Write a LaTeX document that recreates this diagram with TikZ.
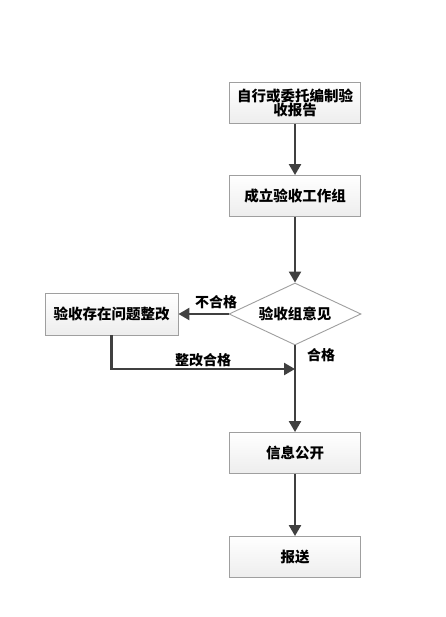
\documentclass[tikz,border=0pt]{standalone}
\usepackage{fontspec}
\newfontfamily\cjk{Noto Sans CJK SC}
\usetikzlibrary{shapes.geometric,arrows.meta}
\tikzset{
  procbox/.style={draw=gray!75, line width=0.9pt, top color=white, bottom color=gray!14,
    minimum width=131pt, minimum height=41pt, align=center, inner sep=2pt, font=\cjk\bfseries\fontsize{14.5}{15.5}\selectfont},
  decide/.style={diamond, draw=gray!75, line width=0.9pt, fill=white, aspect=2.13, inner sep=0pt,
    minimum width=132pt, minimum height=62pt, font=\cjk\bfseries\fontsize{14.5}{15.5}\selectfont},
  flow/.style={draw=black!75, line width=2.4pt, -{Triangle[length=11pt,width=12pt]}},
  lbl/.style={font=\cjk\bfseries\fontsize{14}{15}\selectfont, inner sep=1pt}
}
\begin{document}
\begin{tikzpicture}[x=1pt,y=1pt]
  \useasboundingbox (0,0) rectangle (446,-617);
  % Main column
  \node[procbox] (report) at (295,-103) {自行或委托编制验\\[-2pt]收报告};
  \node[procbox] (group) at (295,-196) {成立验收工作组};
  \node[decide] (opinion) at (295,-314) {验收组意见};
  \node[procbox] (publish) at (295,-453) {信息公开};
  \node[procbox] (submit) at (295,-557) {报送};
  % Rectification branch
  \node[procbox, minimum width=133pt, minimum height=42pt] (fix) at (111.5,-314) {验收存在问题整改};
  \coordinate (join) at (295,-369);

  \draw[flow] (report) -- (group);
  \draw[flow] (group) -- (opinion);
  \draw[flow] (opinion) -- (publish);
  \draw[flow] (publish) -- (submit);
  \draw[flow] (opinion) -- (fix);
  \draw[flow] (fix.south) |- (join);

  % Labels
  \node[lbl] (fail) at (216,-302) {不合格};
  \node[lbl] (pass) at (321,-355) {合格};
  \node[lbl] (fixpass) at (203,-360) {整改合格};
\end{tikzpicture}
\end{document}
